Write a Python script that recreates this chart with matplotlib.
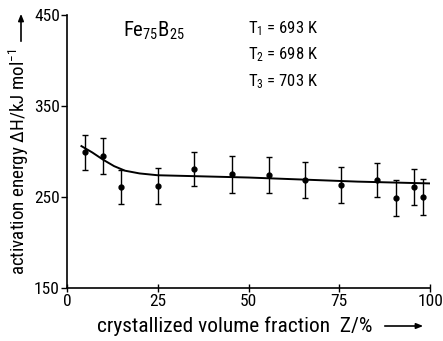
import matplotlib
matplotlib.use("Agg")
import matplotlib.pyplot as plt
from matplotlib import font_manager

names = {f.name for f in font_manager.fontManager.ttflist}
fam = []
for n in ['DejaVu Sans Condensed', 'Liberation Sans Narrow', 'Roboto Condensed', 'Roboto']:
    if n in names:
        fam.append(n)
        break
fam.append('DejaVu Sans')
plt.rcParams['font.family'] = fam
plt.rcParams['mathtext.fontset'] = 'custom'
plt.rcParams['mathtext.rm'] = fam[0]
plt.rcParams['mathtext.it'] = fam[0]

# data points
z = [5, 10, 15, 25, 35, 45.5, 55.5, 65.5, 75.5, 85.5, 90.5, 95.5, 98]
dh = [299, 295, 261, 262, 281, 275, 274, 269, 263, 269, 249, 261, 250]
err = [19, 20, 19, 20, 19, 20, 20, 20, 20, 19, 20, 20, 20]

fit_z = [4, 7, 10, 13, 16, 20, 25, 30, 40, 50, 60, 70, 80, 90, 100]
fit_dh = [306, 299, 291, 284, 279, 276, 274, 273.5, 272.5, 271.5, 270, 268.5, 267, 266, 265]

xticks = [0, 25, 50, 75, 100]
yticks = [150, 250, 350, 450]

W, H = 443, 341
fig = plt.figure(figsize=(W / 100, H / 100), dpi=100)
ax = fig.add_axes([0.151, 0.155, 0.820, 0.801])

ax.plot(fit_z, fit_dh, color='black', lw=1.4)
ax.errorbar(z, dh, yerr=err, fmt='o', color='black', ms=3.5, capsize=2.5,
            elinewidth=1.0, capthick=1.0)

ax.set_xlim(0, 100)
ax.set_ylim(150, 450)
ax.set_xticks(xticks)
ax.set_yticks(yticks)
ax.spines['top'].set_visible(False)
ax.spines['right'].set_visible(False)
ax.spines['left'].set_linewidth(1.2)
ax.spines['bottom'].set_linewidth(1.2)
ax.tick_params(axis='y', direction='out', length=4, width=1.0, labelsize=12.5, pad=1)
ax.tick_params(axis='x', direction='inout', length=6, width=1.0, labelsize=12.5, pad=1)

xl = fig.text(97 / W, 1 - 326 / H, 'crystallized volume fraction  Z/%',
              ha='left', va='center', fontsize=12)
yl = fig.text(19 / W, 1 - 275 / H, 'activation energy \u0394H/kJ mol$^{-1}$',
              ha='center', va='bottom', rotation=90, fontsize=12)

# axis-label arrows
fig.add_artist(matplotlib.patches.FancyArrowPatch(
    (382 / W, 1 - 326 / H), (426 / W, 1 - 326 / H), transform=fig.transFigure,
    arrowstyle='-|>,head_length=4,head_width=1.6', lw=1.2, color='black', mutation_scale=1))
fig.add_artist(matplotlib.patches.FancyArrowPatch(
    (21 / W, 1 - 44 / H), (21 / W, 1 - 11 / H), transform=fig.transFigure,
    arrowstyle='-|>,head_length=4,head_width=1.6', lw=1.2, color='black', mutation_scale=1))

fe = fig.text(123 / W, 1 - 31 / H, 'Fe$_{75}$B$_{25}$', ha='left', va='center', fontsize=13)
ts = [fig.text(248 / W, 1 - yy / H, s, ha='left', va='center', fontsize=12)
      for s, yy in [('T$_1$ = 693 K', 29), ('T$_2$ = 698 K', 55), ('T$_3$ = 703 K', 82)]]

# fit text sizes to reference extents
fig.canvas.draw()
r = fig.canvas.get_renderer()
def fit(t, target, vertical=False):
    bb = t.get_window_extent(r)
    cur = bb.height if vertical else bb.width
    t.set_fontsize(t.get_fontsize() * target / cur)
fit(xl, 275)
fit(yl, 227, vertical=True)
fit(fe, 62)
for t in ts:
    fit(t, 70)

fig.savefig('out.png', dpi=100)
